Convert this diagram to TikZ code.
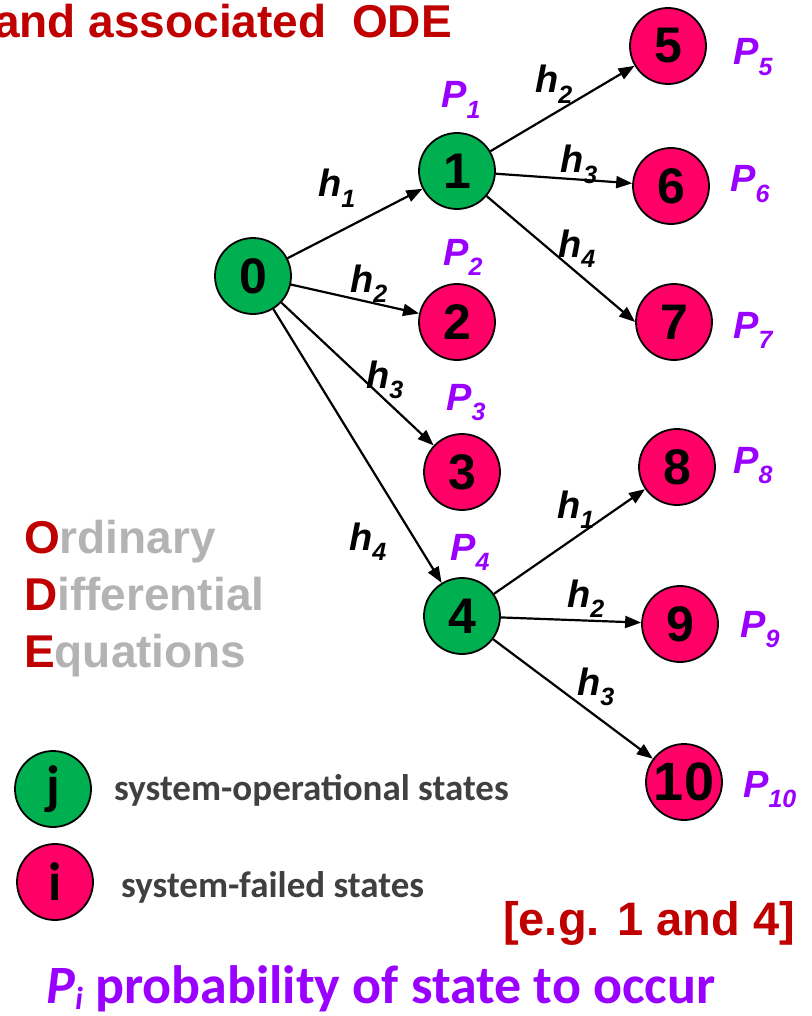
\documentclass[tikz,border=0pt]{standalone}
\usepackage{fontspec}
\setmainfont{Liberation Sans}
\newfontfamily\legendfont{Carlito}
\usepackage{tikz}
\usetikzlibrary{arrows.meta,positioning}
\usepackage{xcolor}
\definecolor{okgreen}{HTML}{00B050}
\definecolor{failpink}{HTML}{FF0066}
\definecolor{probpurple}{HTML}{9900FF}
\definecolor{odered}{HTML}{C00000}
\definecolor{odegray}{HTML}{B3B3B3}
\definecolor{legendgray}{HTML}{404040}
\newcommand{\sub}[2]{#1\raisebox{-0.27em}{\fontsize{25}{25}\selectfont #2}}

\begin{document}
\begin{tikzpicture}[
x=1pt, y=-1pt,
state/.style={circle, draw, line width=1.8pt, minimum size=76pt, inner sep=0pt, font=\fontsize{50}{50}\selectfont\bfseries},
upstate/.style={state, fill=okgreen},
downstate/.style={state, fill=failpink},
rate/.style={anchor=base west, inner sep=0pt, font=\fontsize{38}{38}\selectfont\bfseries\itshape},
prob/.style={rate, text=probpurple},
arrow/.style={-{Triangle[length=16pt,width=12pt]}, line width=2.2pt}
]
\useasboundingbox (0,0) rectangle (811,1016);

% title and ODE letters
\node[anchor=base west, inner sep=0pt, text=odered, font=\fontsize{46}{46}\selectfont\bfseries] (title) at (-6,38) {and associated\ \ ODE};
\node[anchor=base west, inner sep=0pt, font=\fontsize{46}{46}\selectfont\bfseries, text=odegray] (ode1) at (24,553) {\textcolor{odered}{O}rdinary};
\node[anchor=base west, inner sep=0pt, font=\fontsize{46}{46}\selectfont\bfseries, text=odegray] (ode2) at (24,610) {\textcolor{odered}{D}ifferential};
\node[anchor=base west, inner sep=0pt, font=\fontsize{46}{46}\selectfont\bfseries, text=odegray] (ode3) at (24,667) {\textcolor{odered}{E}quations};

% states
\node[upstate] (s0) at (253,276) {0};
\node[upstate] (s1) at (457,171) {1};
\node[downstate] (s2) at (457,322) {2};
\node[downstate] (s3) at (462,472) {3};
\node[upstate] (s4) at (462,616) {4};
\node[downstate] (s5) at (668,46) {5};
\node[downstate] (s6) at (671,186) {6};
\node[downstate] (s7) at (674,322) {7};
\node[downstate] (s8) at (677,467) {8};
\node[downstate] (s9) at (680,624) {9};
\node[downstate, font=\fontsize{54}{54}\selectfont\bfseries] (s10) at (684,782) {10};

% transitions
\draw[arrow] (s0) -- (s1);
\draw[arrow] (s0) -- (s2);
\draw[arrow] (s0) -- (s3);
\draw[arrow] (s0) -- (s4);
\draw[arrow] (s1) -- (s5);
\draw[arrow] (s1) -- (s6);
\draw[arrow] (s1) -- (s7.west);
\draw[arrow] (s4) -- (s8);
\draw[arrow] (s4) -- (s9);
\draw[arrow] (s4) -- (s10);

% failure rates
\node[rate] (r01) at (318,197) {\sub{h}{1}};
\node[rate] (r02) at (350,292) {\sub{h}{2}};
\node[rate] (r03) at (366,388) {\sub{h}{3}};
\node[rate] (r04) at (349,550) {\sub{h}{4}};
\node[rate] (r15) at (535,93) {\sub{h}{2}};
\node[rate] (r16) at (560,173) {\sub{h}{3}};
\node[rate] (r17) at (558,257) {\sub{h}{4}};
\node[rate] (r48) at (557,518) {\sub{h}{1}};
\node[rate] (r49) at (567,607) {\sub{h}{2}};
\node[rate] (r410) at (577,695) {\sub{h}{3}};

% state probabilities
\node[prob] (p1) at (441,108) {\sub{P}{1}};
\node[prob] (p2) at (443,265) {\sub{P}{2}};
\node[prob] (p3) at (446,410) {\sub{P}{3}};
\node[prob] (p4) at (450,560) {\sub{P}{4}};
\node[prob] (p5) at (733,65) {\sub{P}{5}};
\node[prob] (p6) at (730,192) {\sub{P}{6}};
\node[prob] (p7) at (733,338) {\sub{P}{7}};
\node[prob] (p8) at (733,473) {\sub{P}{8}};
\node[prob] (p9) at (740,637) {\sub{P}{9}};
\node[prob] (p10) at (743,797) {\sub{P}{10}};

% legend
\node[upstate, font=\fontsize{54}{54}\selectfont\legendfont\bfseries] (lj) at (53,789) {j};
\node[downstate, font=\fontsize{54}{54}\selectfont\legendfont\bfseries] (li) at (55,882) {i};
\node[anchor=base west, inner sep=0pt, text=legendgray, font=\fontsize{37}{37}\selectfont\legendfont\bfseries] (lop) at (114,800) {system-operational states};
\node[anchor=base west, inner sep=0pt, text=legendgray, font=\fontsize{37}{37}\selectfont\legendfont\bfseries] (lfa) at (121,897) {system-failed states};

\node[anchor=base east, inner sep=0pt, text=odered, font=\fontsize{47}{47}\selectfont\bfseries] (eg) at (795,935) {[e.g. 1 and 4]};
\node[anchor=base west, inner sep=0pt, text=probpurple, font=\fontsize{54}{54}\selectfont\legendfont\bfseries] (pi) at (46,1003) {\textit{P}\raisebox{-0.12em}{\fontsize{32}{32}\selectfont\textit{i}} probability of state to occur};
\end{tikzpicture}
\end{document}
